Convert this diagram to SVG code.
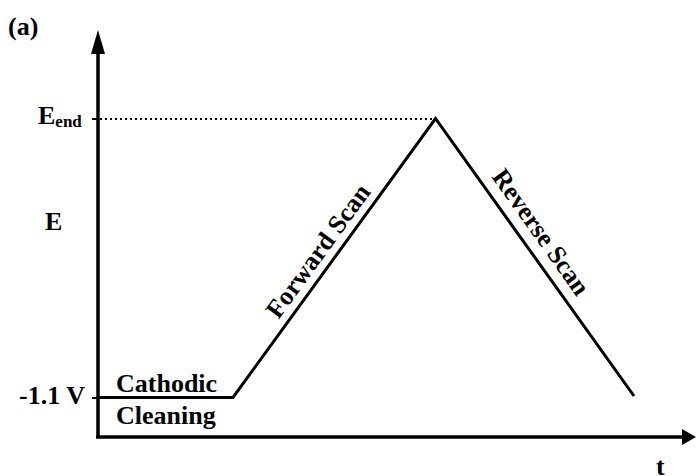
<svg xmlns="http://www.w3.org/2000/svg" width="696" height="476" viewBox="0 0 696 476">
<style>
.t{font-family:"Liberation Serif","Times New Roman",serif;font-weight:bold;fill:#000}
.ln{stroke:#000;fill:none;stroke-linecap:butt}
</style>
<rect width="696" height="476" fill="#fff"/>
<g id="axes">
<line class="ln" x1="98" y1="48" x2="98" y2="438" stroke-width="3.5"/>
<polygon points="98,30 91,54 105,54" fill="#000"/>
<line class="ln" x1="96" y1="437" x2="684" y2="437" stroke-width="3.5"/>
<polygon points="696,437 682,429 682,445" fill="#000"/>
<line class="ln" x1="92" y1="119" x2="98" y2="119" stroke-width="2"/>
<line class="ln" x1="92" y1="398" x2="98" y2="398" stroke-width="2"/>
</g>
<g id="connectors">
<line class="ln" x1="100" y1="119" x2="434" y2="119" stroke-width="2" stroke-dasharray="2,3"/>
<polyline class="ln" points="98,397.5 233,397.5 435.5,118.5 634,396" stroke-width="3" stroke-linejoin="miter"/>
</g>
<g id="labels">
<text class="t" x="8" y="35" font-size="26">(a)</text>
<text class="t" x="38" y="124" font-size="26">E<tspan font-size="17" dy="3">end</tspan></text>
<text class="t" x="45" y="230" font-size="26">E</text>
<text class="t" x="19" y="404" font-size="26">-1.1 V</text>
<text class="t" x="116" y="392" font-size="26">Cathodic</text>
<text class="t" x="116" y="424" font-size="26">Cleaning</text>
<text class="t" x="656" y="475" font-size="26">t</text>
<text class="t" x="325" y="256" font-size="26" text-anchor="middle" transform="rotate(-54 325 256)">Forward Scan</text>
<text class="t" x="534" y="237" font-size="26" text-anchor="middle" transform="rotate(54.6 534 237)">Reverse Scan</text>
</g>
</svg>
